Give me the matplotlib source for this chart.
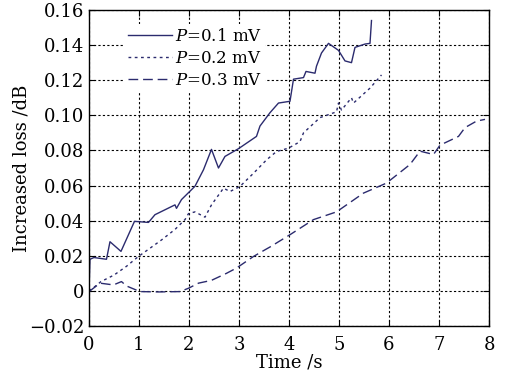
import matplotlib
matplotlib.use("Agg")
import matplotlib.pyplot as plt

# Data
t1 = [0.0, 0.02, 0.10, 0.35, 0.42, 0.64, 0.91, 1.19, 1.32, 1.72, 1.75, 1.85, 2.12, 2.29, 2.45,
      2.59, 2.72, 2.99, 3.35, 3.42, 3.62, 3.79, 4.02, 4.09, 4.29, 4.34, 4.52, 4.55, 4.65, 4.79,
      4.99, 5.12, 5.25, 5.32, 5.52, 5.62, 5.65]
y1 = [0.0, 0.018, 0.019, 0.018, 0.028, 0.0225, 0.0396, 0.039, 0.0434, 0.049, 0.047, 0.052, 0.0596,
      0.069, 0.0806, 0.070, 0.0766, 0.081, 0.088, 0.0939, 0.1015, 0.107, 0.108, 0.1206, 0.1215,
      0.125, 0.124, 0.128, 0.1355, 0.141, 0.137, 0.131, 0.130, 0.1387, 0.1406, 0.141, 0.154]

t2 = [0.0, 0.12, 0.24, 0.50, 0.75, 0.98, 1.22, 1.45, 1.72, 1.92, 1.99, 2.12, 2.32, 2.45, 2.69,
      2.82, 3.02, 3.29, 3.55, 3.75, 3.99, 4.22, 4.29, 4.62, 4.95, 4.99, 5.05, 5.25, 5.29, 5.62, 5.85]
y2 = [0.0, 0.0025, 0.0053, 0.009, 0.014, 0.0194, 0.0243, 0.029, 0.035, 0.0406, 0.044, 0.045,
      0.042, 0.049, 0.0585, 0.0566, 0.0595, 0.067, 0.0746, 0.0794, 0.0813, 0.085, 0.090, 0.0987,
      0.102, 0.107, 0.103, 0.110, 0.107, 0.1155, 0.123]

t3 = [0.0, 0.02, 0.22, 0.49, 0.65, 0.75, 1.02, 1.40, 1.82, 1.99, 2.19, 2.45, 2.75, 2.95, 3.29,
      3.52, 3.62, 4.02, 4.49, 4.95, 5.49, 5.95, 6.42, 6.62, 6.89, 7.02, 7.39, 7.52, 7.75, 7.92]
y3 = [0.0, 0.0, 0.0044, 0.0034, 0.0053, 0.0028, -0.0004, -0.0006, -0.0004, 0.0015, 0.0044, 0.006,
      0.010, 0.013, 0.0196, 0.0234, 0.025, 0.032, 0.0406, 0.045, 0.0557, 0.0614, 0.072, 0.0796,
      0.0777, 0.083, 0.088, 0.093, 0.0967, 0.0977]

labels = [r"$P$=0.1 mV", r"$P$=0.2 mV", r"$P$=0.3 mV"]
xticks = [0, 1, 2, 3, 4, 5, 6, 7, 8]
yticks = [-0.02, 0, 0.02, 0.04, 0.06, 0.08, 0.10, 0.12, 0.14, 0.16]
yticklabels = ["\u22120.02", "0", "0.02", "0.04", "0.06", "0.08", "0.10", "0.12", "0.14", "0.16"]

plt.rcParams["font.family"] = ["DejaVu Serif"]
plt.rcParams["mathtext.fontset"] = "dejavuserif"

fig = plt.figure(figsize=(5.07, 3.76), dpi=100)
ax = fig.add_axes([0.1755, 0.133, 0.789, 0.8404])

color = "#2b2b6e"
ax.plot(t1, y1, color=color, lw=1.0, ls="-", label=labels[0])
ax.plot(t2, y2, color=color, lw=1.0, ls=(0, (2, 2.5)), label=labels[1])
ax.plot(t3, y3, color=color, lw=1.0, ls=(0, (7, 3.5)), label=labels[2])

ax.set_xlim(0, 8)
ax.set_ylim(-0.02, 0.16)
ax.set_xticks(xticks)
ax.set_yticks(yticks)
ax.set_yticklabels(yticklabels)
ax.grid(True, color="black", ls=(0, (2, 2)), lw=0.8)
ax.tick_params(direction="in", top=True, right=True, labelsize=13, length=4)
ax.tick_params(axis="x", pad=7)
for s in ax.spines.values():
    s.set_linewidth(1.0)

ax.set_xlabel("Time /s", fontsize=13, labelpad=0)
ax.set_ylabel("Increased loss /dB", fontsize=13, labelpad=-1)

leg = ax.legend(loc="upper left", bbox_to_anchor=(0.09, 0.955), frameon=True, fontsize=12,
                handlelength=2.6, handletextpad=0.2, labelspacing=0.32, borderaxespad=0,
                borderpad=0.2)
leg.get_frame().set_facecolor("white")
leg.get_frame().set_edgecolor("none")
leg.get_frame().set_alpha(1)

fig.savefig("out.png", dpi=100)
